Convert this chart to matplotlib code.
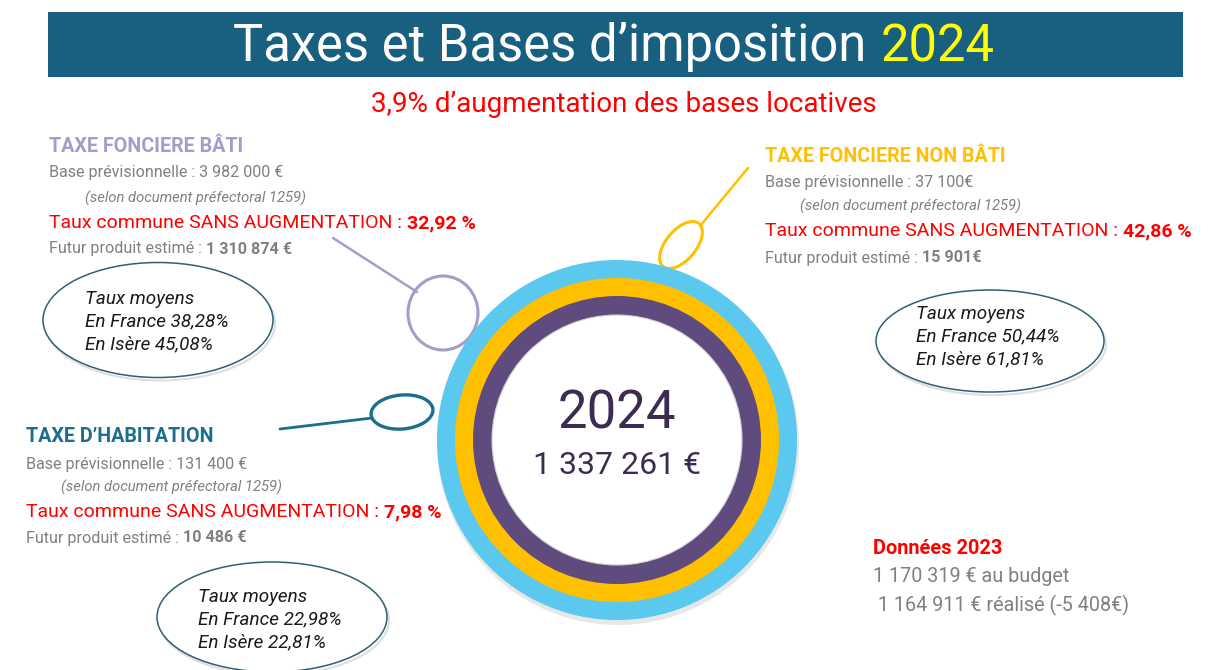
import matplotlib
matplotlib.use("Agg")
import matplotlib.pyplot as plt
from matplotlib.patches import Circle, Ellipse, Rectangle

plt.rcParams['font.family'] = ['Roboto', 'DejaVu Sans']

# ---------------- data ----------------
title_main = "Taxes et Bases d\u2019imposition"
title_year = "2024"
subtitle = "3,9% d\u2019augmentation des bases locatives"

tax_names = ["TAXE FONCIERE BÂTI", "TAXE FONCIERE NON BÂTI", "TAXE D\u2019HABITATION"]
tax_bases = ["3 982 000 €", "37 100€", "131 400 €"]
tax_rates = ["32,92 %", "42,86 %", "7,98 %"]
tax_products = ["1 310 874 €", "15 901€", "10 486 €"]
avg_france = ["38,28%", "50,44%", "22,98%"]
avg_isere = ["45,08%", "61,81%", "22,81%"]
tax_colors = ["#A99BC9", "#FFC000", "#1B6E8F"]

ring_colors = ["#5BC8F0", "#FFC000", "#5F4B7D"]
total_year = "2024"
total_amount = "1 337 261 €"

data2023_title = "Données 2023"
data2023_lines = ["1 170 319 € au budget", " 1 164 911 € réalisé (-5 408€)"]

GRAY = "#808080"
RED = "#FF0000"

# ---------------- figure ----------------
fig = plt.figure(figsize=(12.16, 6.70), dpi=100)
ax = fig.add_axes([0, 0, 1, 1])
ax.set_xlim(0, 1216)
ax.set_ylim(670, 0)
ax.axis('off')

# banner
ax.add_patch(Rectangle((48, 12), 1135, 65, facecolor="#185F80", edgecolor="none"))
t = ax.text(233, 47, title_main, color="white", fontsize=36.5, va="center", ha="left")
ax.annotate(title_year, xy=(1, 0.5), xycoords=t, xytext=(10, 0), textcoords="offset points",
            color="#FFFF00", fontsize=36.5, va="center", ha="left")

ax.text(624, 105, subtitle, color=RED, fontsize=20, va="center", ha="center")


def seg_line(x, y, segs, size):
    prev = None
    for txt, color, weight, style in segs:
        gap = 0
        if txt.startswith(" "):
            gap = 0.27 * size
            txt = txt.lstrip(" ")
        if prev is None:
            prev = ax.text(x, y, txt, color=color, fontsize=size, fontweight=weight,
                           fontstyle=style, va="center", ha="left")
        else:
            prev = ax.annotate(txt, xy=(1, 0.5), xycoords=prev, xytext=(gap, 0),
                               textcoords="offset points", color=color, fontsize=size,
                               fontweight=weight, fontstyle=style, va="center", ha="left")


def tax_block(i, x, y0, dys, indent):
    ax.text(x, y0, tax_names[i], color=tax_colors[i], fontsize=14.2, fontweight="bold",
            va="center", ha="left")
    ax.text(x, y0 + dys[0], "Base prévisionnelle : " + tax_bases[i], color=GRAY,
            fontsize=11.6, va="center", ha="left")
    ax.text(x + indent, y0 + dys[1], "(selon document préfectoral 1259)", color=GRAY,
            fontsize=10.6, fontstyle="italic", va="center", ha="left")
    seg_line(x, y0 + dys[2], [("Taux commune SANS AUGMENTATION :", RED, "normal", "normal"),
                              (" " + tax_rates[i], RED, "bold", "normal")], 14)
    seg_line(x, y0 + dys[3], [("Futur produit estimé :", GRAY, "normal", "normal"),
                              (" " + tax_products[i], GRAY, "bold", "normal")], 11.6)


tax_block(0, 49, 147, [25, 51, 76, 102], 36)
tax_block(1, 765, 156, [27, 50, 75, 102], 35)
tax_block(2, 26, 437, [27, 50, 75, 101], 35)


def avg_oval(i, cx, cy, w, h, tx, ty):
    ax.add_patch(Ellipse((cx + 2, cy + 3), w, h, facecolor="none", edgecolor="#C8C8C8",
                         lw=1.5, alpha=0.6))
    ax.add_patch(Ellipse((cx, cy), w, h, facecolor="white", edgecolor="#2E5F76", lw=1.1))
    lines = ["Taux moyens", "En France " + avg_france[i], "En Isère " + avg_isere[i]]
    for k, s in enumerate(lines):
        ax.text(tx, ty + 22.5 * k, s, color="#1A1A1A", fontsize=13.6, fontstyle="italic",
                va="center", ha="left")


avg_oval(0, 158, 320, 230, 115, 85, 299)
avg_oval(1, 990, 341, 228, 102, 916, 314)
avg_oval(2, 272, 617, 230, 110, 198, 597)

# connector loops
ax.plot([333, 417], [238, 292], color=tax_colors[0], lw=1.8, solid_capstyle="round")
ax.add_patch(Ellipse((443, 313), 70, 74, facecolor="none", edgecolor=tax_colors[0], lw=2.2))

ax.plot([748, 700], [168, 226], color=tax_colors[1], lw=1.8, solid_capstyle="round")
ax.add_patch(Ellipse((681, 245), 56, 30, angle=-50, facecolor="none",
                     edgecolor=tax_colors[1], lw=2.2))

ax.plot([280, 372], [429, 418], color=tax_colors[2], lw=2.0, solid_capstyle="round")
ax.add_patch(Ellipse((402, 412), 62, 34, angle=-5, facecolor="none",
                     edgecolor=tax_colors[2], lw=2.4))

# central rings
cx, cy = 617, 440
ax.add_patch(Circle((cx + 1, cy + 4), 181, facecolor="#BDBDBD", edgecolor="none", alpha=0.35))
radii = [180, 162, 144]
for r, c in zip(radii, ring_colors):
    ax.add_patch(Circle((cx, cy), r, facecolor=c, edgecolor="none"))
ax.add_patch(Circle((cx, cy), 125, facecolor="white", edgecolor="#D0D0D0", lw=0.8))

ax.text(cx, 414, total_year, color="#3D2B50", fontsize=38, va="center", ha="center")
ax.text(cx, 466, total_amount, color="#3D2B50", fontsize=23, va="center", ha="center")

# données 2023
ax.text(873, 548, data2023_title, color=RED, fontsize=14.4, fontweight="bold",
        va="center", ha="left")
ax.text(873, 576, data2023_lines[0], color=GRAY, fontsize=14.2, va="center", ha="left")
ax.text(873, 605, data2023_lines[1], color=GRAY, fontsize=14.2, va="center", ha="left")

fig.savefig("out.png", dpi=100)
